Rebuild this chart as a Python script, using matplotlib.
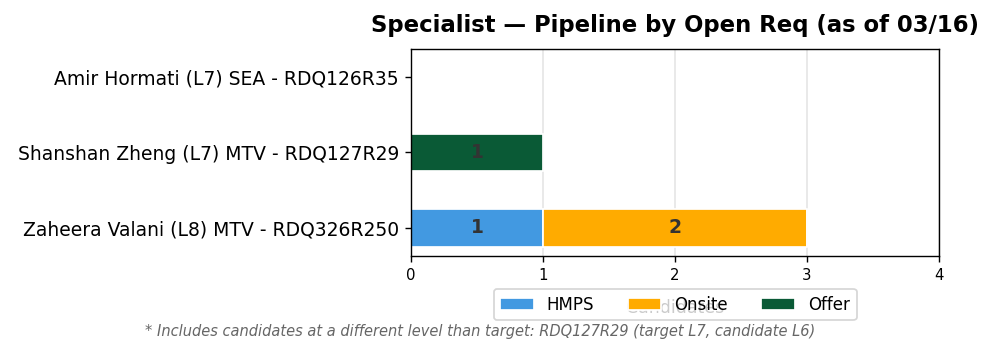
import numpy as np
import matplotlib.pyplot as plt

# reqs, bottom to top
reqs = ['Zaheera Valani (L8) MTV - RDQ326R250',
        'Shanshan Zheng (L7) MTV - RDQ127R29',
        'Amir Hormati (L7) SEA - RDQ126R35']
stages = ['HMPS', 'Onsite', 'Offer']
hmps = [1, 0, 0]
onsite = [2, 0, 0]
offer = [0, 1, 0]
colors = ['#4299E1', '#FFAB00', '#0A5A36']
footnote = '* Includes candidates at a different level than target: RDQ127R29 (target L7, candidate L6)'


def main():
    fig = plt.figure(figsize=(996 / 125, 355 / 125), dpi=125)
    ax = fig.add_axes([0.4127, 0.279, 0.5301, 0.583])

    y = np.arange(len(reqs))
    left = np.zeros(len(reqs))
    for name, vals, c in zip(stages, [hmps, onsite, offer], colors):
        vals = np.array(vals, dtype=float)
        ax.barh(y, vals, left=left, height=0.5, color=c, edgecolor='white',
                linewidth=1, label=name, zorder=2)
        for yi, (l, v) in enumerate(zip(left, vals)):
            if v > 0:
                ax.text(l + v / 2, yi, f'{int(v)}', ha='center', va='center',
                        fontsize=10.8, fontweight='bold', color='#333333', zorder=3)
        left += vals

    ax.set_yticks(y)
    ax.set_yticklabels(reqs, fontsize=10.8)
    ax.set_xlim(0, 4)
    ax.set_xticks([0, 1, 2, 3, 4])
    ax.tick_params(axis='x', labelsize=8.6)
    ax.grid(axis='x', color='#e6e6e6', linewidth=1, zorder=0)
    ax.set_axisbelow(True)
    # x label sits behind the legend, as in the source chart
    ax.set_xlabel('Candidates', fontsize=10, labelpad=9)
    ax.set_title('Specialist \u2014 Pipeline by Open Req (as of 03/16)',
                 fontsize=13.1, fontweight='bold', pad=10)

    leg = ax.legend(loc='upper center', bbox_to_anchor=(0.5, -0.12), ncol=3,
                    fontsize=9.6, frameon=True, framealpha=0.8)
    leg.set_zorder(5)

    fig.text(0.482, 0.065, footnote, ha='center', va='center', fontsize=8.4,
             style='italic', color='#666666')

    fig.savefig('out.png', dpi=125)


if __name__ == '__main__':
    main()
